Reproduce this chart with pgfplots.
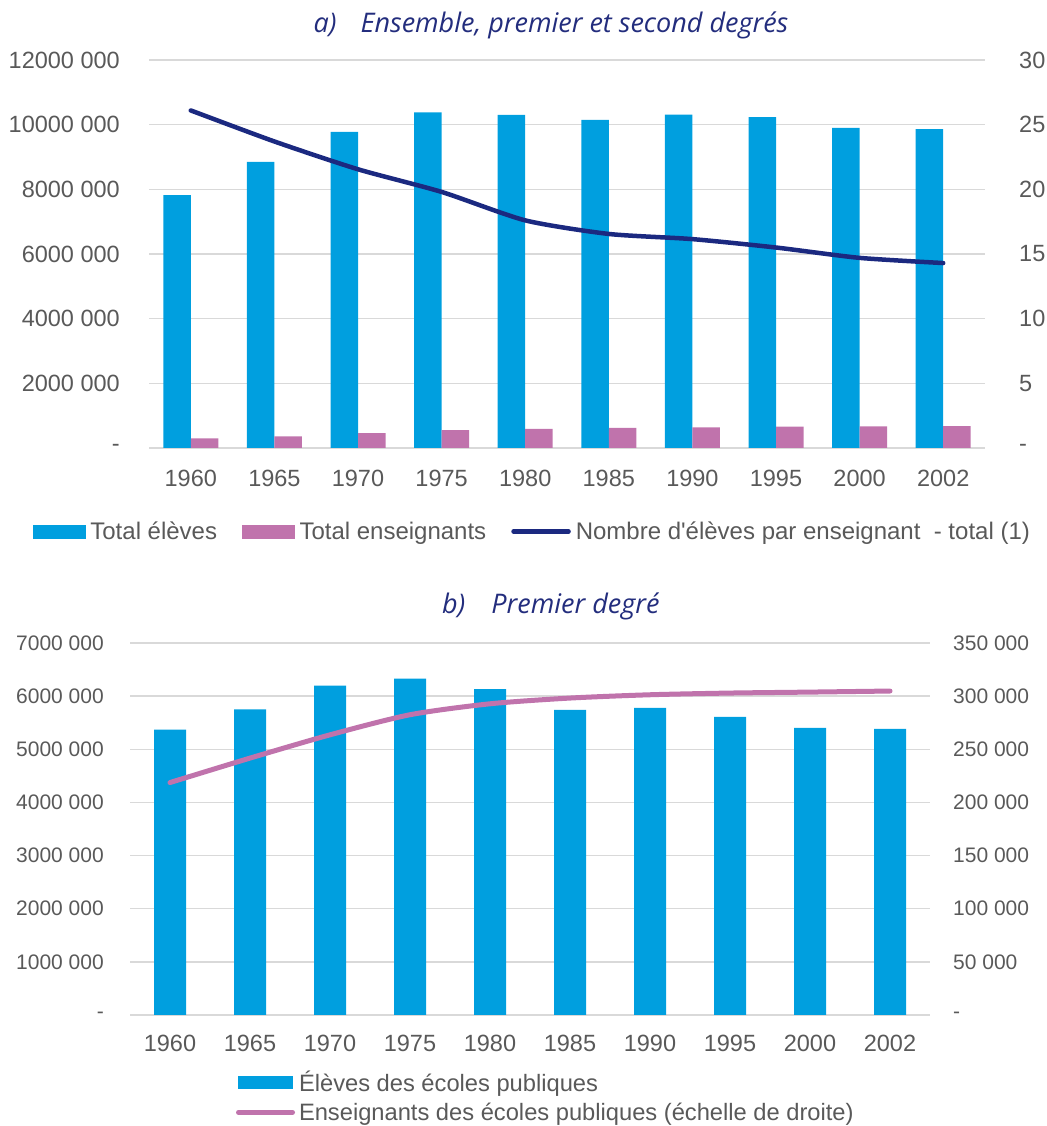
\documentclass[border=0pt]{standalone}
\usepackage{fontspec}
\setmainfont{Liberation Sans}
\newfontfamily\titlefont{Open Sans}
\usepackage{pgfplots}
\pgfplotsset{compat=1.18}
\definecolor{cBlue}{RGB}{0,159,223}
\definecolor{cPink}{RGB}{192,115,172}
\definecolor{cNavy}{RGB}{27,41,128}
\definecolor{cTitle}{RGB}{35,45,125}
\definecolor{cGrid}{RGB}{217,217,217}
\definecolor{cText}{RGB}{89,89,89}
\newcommand\fA{\fontsize{23.5bp}{28bp}\selectfont}
\newcommand\fL{\fontsize{24bp}{28bp}\selectfont}
\newcommand\fLb{\fontsize{23.7bp}{28bp}\selectfont}
\newcommand\fB{\fontsize{21bp}{25bp}\selectfont}
\newcommand\fT{\fontsize{27bp}{32bp}\selectfont}
\pgfplotsset{
  common/.style={scale only axis, xmin=-0.5, xmax=9.5, xtick={0,...,9},
    scaled y ticks=false,
    axis line style={draw=none}, major tick length=0pt, tick style={draw=none},
    tick label style={text=cText}, grid style={draw=cGrid, line width=1.5bp},
    clip=false, anchor=south west},
}
\begin{document}
\begin{tikzpicture}
\useasboundingbox (0,0) rectangle (1047bp,1126bp);
% ---------------- chart a ----------------
\begin{axis}[common, at={(149bp,678bp)}, width=836bp, height=388bp,
  ymin=0, ymax=12e6, ytick={0,2e6,4e6,6e6,8e6,10e6,12e6},
  yticklabels={-,2000 000,4000 000,6000 000,8000 000,10000 000,12000 000},
  ymajorgrids, ybar=0pt, bar width=27.5bp,
  xticklabels={1960,1965,1970,1975,1980,1985,1990,1995,2000,2002},
  xticklabel style={font=\fA, anchor=center, yshift=-30bp},
  yticklabel style={font=\fA, anchor=east, inner sep=0pt, xshift=-29bp},
  title={\titlefont\itshape a)\hspace*{24bp}Ensemble, premier et second degrés},
  title style={at={(0.4809,1.075)}, anchor=center, font=\fT, text=cTitle}]
\addplot[fill=cBlue, draw=none] coordinates {(0,7.82e6) (1,8.85e6) (2,9.78e6) (3,10.38e6) (4,10.30e6) (5,10.15e6) (6,10.31e6) (7,10.23e6) (8,9.90e6) (9,9.86e6)};
\addplot[fill=cPink, draw=none] coordinates {(0,0.30e6) (1,0.36e6) (2,0.46e6) (3,0.55e6) (4,0.59e6) (5,0.62e6) (6,0.64e6) (7,0.66e6) (8,0.67e6) (9,0.68e6)};
\end{axis}
\begin{axis}[common, at={(149bp,678bp)}, width=836bp, height=388bp,
  hide x axis, ymin=0, ymax=30, ytick={0,5,10,15,20,25,30},
  yticklabels={-,5,10,15,20,25,30}, yticklabel pos=right,
  yticklabel style={font=\fA, anchor=west, inner sep=0pt, xshift=34bp},
  legend columns=-1, legend cell align=left,
  legend style={at={(-0.1388,-0.215)}, anchor=west, draw=none, fill=none,
    inner sep=0pt, outer sep=0pt, font=\fL, text=cText, nodes={inner sep=0pt},
    /tikz/every odd column/.append style={column sep=5bp},
    /tikz/every even column/.append style={column sep=25bp}}]
\addlegendimage{legend image code/.code={\fill[cBlue] (0bp,-6.5bp) rectangle (52bp,6.5bp);}}
\addlegendentry{Total élèves}
\addlegendimage{legend image code/.code={\fill[cPink] (0bp,-6.5bp) rectangle (52bp,6.5bp);}}
\addlegendentry{Total enseignants}
\addplot[cNavy, line width=4.5bp, smooth, tension=0.4, line cap=round, line join=round,
  legend image code/.code={\path (0bp,0bp) -- (55bp,0bp); \draw[cNavy, line width=4.5bp, line cap=round] (2.5bp,0bp) -- (52.5bp,0bp);}]
  coordinates {(0,26.1) (1,23.7) (2,21.55) (3,19.8) (4,17.6) (5,16.55) (6,16.15) (7,15.5) (8,14.7) (9,14.3)};
\addlegendentry{Nombre d\textquotesingle élèves par enseignant~ - total (1)}
\end{axis}
% ---------------- chart b ----------------
\begin{axis}[common, at={(130bp,111bp)}, width=800bp, height=372bp,
  ymin=0, ymax=7e6, ytick={0,1e6,2e6,3e6,4e6,5e6,6e6,7e6},
  yticklabels={-,1000 000,2000 000,3000 000,4000 000,5000 000,6000 000,7000 000},
  ymajorgrids, ybar, bar width=32bp,
  xticklabels={1960,1965,1970,1975,1980,1985,1990,1995,2000,2002},
  xticklabel style={font=\fA, anchor=center, yshift=-28bp},
  yticklabel style={font=\fB, anchor=east, inner sep=0pt, xshift=-26bp},
  title={\titlefont\itshape b)\hspace*{26bp}Premier degré},
  title style={at={(0.526,1.0833)}, anchor=center, font=\fT, text=cTitle}]
\addplot[fill=cBlue, draw=none] coordinates {(0,5.37e6) (1,5.75e6) (2,6.20e6) (3,6.33e6) (4,6.13e6) (5,5.74e6) (6,5.78e6) (7,5.61e6) (8,5.405e6) (9,5.385e6)};
\end{axis}
\begin{axis}[common, at={(130bp,111bp)}, width=800bp, height=372bp,
  hide x axis, ymin=0, ymax=350000, ytick={0,50000,100000,150000,200000,250000,300000,350000},
  yticklabels={-,50 000,100 000,150 000,200 000,250 000,300 000,350 000}, yticklabel pos=right,
  yticklabel style={font=\fB, anchor=west, inner sep=0pt, xshift=23bp},
  legend cell align=left,
  legend style={at={(0.1325,-0.2188)}, anchor=west, draw=none, fill=none,
    inner sep=0pt, outer sep=0pt, font=\fLb, text=cText, nodes={inner sep=0pt},
    row sep=10bp,
    /tikz/every odd column/.append style={column sep=4bp}}]
\addlegendimage{legend image code/.code={\fill[cBlue] (0bp,-6bp) rectangle (54bp,6bp);}}
\addlegendentry{Élèves des écoles publiques}
\addplot[cPink, line width=5bp, smooth, tension=0.45, line cap=round, line join=round,
  legend image code/.code={\path (0bp,0bp) -- (54bp,0bp); \draw[cPink, line width=5bp, line cap=round] (2.5bp,0bp) -- (51.5bp,0bp);}]
  coordinates {(0,218700) (1,241700) (2,263600) (3,282500) (4,292800) (5,298200) (6,301300) (7,302900) (8,303800) (9,304800)};
\addlegendentry{Enseignants des écoles publiques (échelle de droite)}
\end{axis}
\end{tikzpicture}
\end{document}
